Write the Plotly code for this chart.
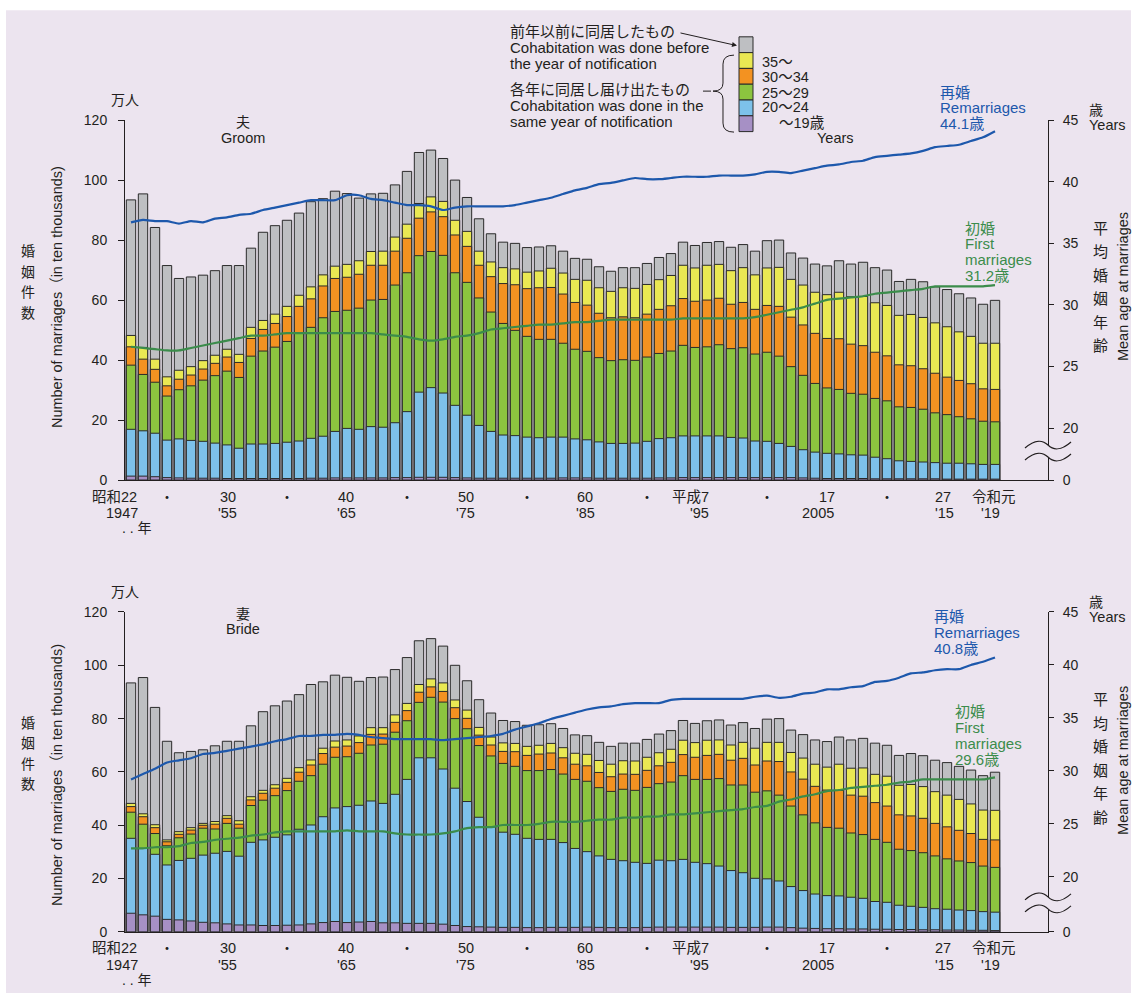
import plotly.graph_objects as go

W, H = 1137, 997
# measured photo mapping: picture_y = VS * page_y + VC  (page is slightly squeezed vertically)
VS, VC = 0.9842, 7.87
years = list(range(1947, 2020))

# ---------------- data (万人, cumulative tops of each stacked band) ----------------
total = [93.4, 95.4, 84.2, 71.5, 67.2, 67.7, 68.3, 69.8, 71.5, 71.5,
         77.3, 82.6, 84.8, 86.6, 89.0, 92.8, 93.8, 96.3, 95.5, 94.0,
         95.4, 95.6, 98.4, 102.9, 109.2, 110.0, 107.2, 100.0, 94.2, 87.1,
         82.1, 79.3, 78.9, 77.5, 77.7, 78.1, 76.3, 73.9, 73.6, 71.1,
         69.6, 70.8, 70.8, 72.2, 74.2, 75.5, 79.3, 78.2, 79.2, 79.5,
         77.6, 78.5, 76.3, 79.8, 80.0, 75.7, 74.0, 72.0, 71.4, 73.1,
         72.0, 72.6, 70.8, 70.0, 66.2, 66.9, 66.1, 64.4, 63.5, 62.1,
         60.7, 58.6, 59.9]

groom_top_19 = [1.3, 1.3, 1.1, 0.8, 0.7, 0.6, 0.6, 0.6, 0.5, 0.5,
                0.5, 0.5, 0.5, 0.5, 0.5, 0.6, 0.6, 0.7, 0.7, 0.7,
                0.7, 0.7, 0.8, 0.8, 0.9, 0.9, 0.9, 0.8, 0.7, 0.6,
                0.6, 0.6, 0.6, 0.6, 0.6, 0.6, 0.7, 0.7, 0.7, 0.6,
                0.6, 0.6, 0.6, 0.6, 0.7, 0.7, 0.8, 0.8, 0.8, 0.8,
                0.8, 0.8, 0.8, 0.8, 0.8, 0.8, 0.7, 0.6, 0.5, 0.5,
                0.5, 0.5, 0.4, 0.4, 0.4, 0.4, 0.4, 0.4, 0.3, 0.3,
                0.3, 0.3, 0.3]
groom_top_20_24 = [16.9, 16.4, 15.6, 13.3, 13.7, 13.2, 12.9, 12.3, 11.7, 10.6,
                   12.0, 12.0, 12.2, 12.6, 13.0, 13.9, 14.6, 16.2, 17.2, 16.9,
                   17.8, 17.6, 19.1, 22.8, 29.3, 30.8, 29.0, 24.9, 21.6, 18.2,
                   16.2, 15.0, 14.8, 14.3, 14.1, 14.3, 14.3, 13.7, 13.4, 12.7,
                   12.2, 12.2, 12.3, 12.9, 13.8, 14.1, 14.7, 14.7, 14.7, 14.7,
                   14.2, 14.0, 13.0, 12.9, 12.2, 11.2, 10.1, 9.3, 8.9, 8.7,
                   8.4, 8.3, 7.6, 7.1, 6.4, 6.2, 6.0, 5.8, 5.6, 5.6,
                   5.4, 5.2, 5.2]
groom_top_25_29 = [38.3, 35.2, 32.6, 28.0, 30.1, 31.4, 33.3, 34.8, 36.3, 34.2,
                   41.3, 43.0, 44.3, 46.2, 49.1, 50.9, 54.1, 56.2, 56.6, 57.3,
                   60.0, 60.2, 65.0, 69.1, 74.8, 76.2, 74.9, 69.1, 65.9, 60.7,
                   56.0, 52.2, 49.9, 47.9, 46.9, 46.9, 45.6, 43.6, 42.9, 40.8,
                   39.8, 40.1, 39.9, 41.0, 42.2, 43.0, 44.9, 44.2, 44.4, 45.1,
                   43.8, 44.1, 42.0, 42.6, 41.3, 37.8, 34.9, 32.2, 30.7, 30.2,
                   28.9, 28.6, 27.2, 26.4, 24.4, 24.2, 23.6, 22.4, 21.8, 21.1,
                   20.4, 19.6, 19.4]
groom_top_30_34 = [44.4, 40.3, 36.9, 31.4, 33.6, 35.0, 37.0, 38.9, 41.0, 39.2,
                   47.2, 50.2, 52.2, 54.5, 57.9, 60.4, 64.7, 67.2, 67.6, 68.6,
                   71.6, 71.6, 76.3, 80.6, 87.3, 89.4, 87.8, 81.7, 77.9, 71.6,
                   67.8, 65.5, 65.1, 63.8, 64.1, 64.2, 62.0, 59.2, 58.3, 55.6,
                   54.1, 54.4, 54.1, 55.3, 56.9, 58.1, 60.5, 59.6, 60.0, 60.6,
                   58.6, 59.2, 56.9, 58.2, 57.9, 54.3, 51.7, 48.9, 47.2, 47.1,
                   45.3, 44.8, 42.6, 41.4, 38.4, 38.1, 37.1, 35.6, 34.3, 33.2,
                   32.1, 30.4, 30.2]
groom_top_35plus = [48.2, 44.2, 40.3, 34.4, 36.6, 37.8, 39.8, 41.6, 43.6, 41.9,
                    50.9, 53.2, 55.3, 57.9, 61.6, 64.4, 68.4, 71.3, 71.9, 73.1,
                    76.2, 76.3, 81.0, 85.3, 92.2, 94.4, 92.9, 86.6, 82.9, 76.3,
                    72.7, 70.8, 70.4, 69.3, 69.7, 70.6, 69.0, 66.9, 66.6, 64.1,
                    62.9, 64.1, 63.9, 65.2, 66.8, 68.2, 71.6, 70.7, 71.6, 71.9,
                    69.8, 70.8, 68.4, 70.7, 70.9, 66.9, 65.0, 62.6, 61.8, 62.6,
                    61.1, 61.2, 59.1, 58.2, 54.9, 55.2, 54.2, 52.4, 51.1, 49.4,
                    47.9, 45.6, 45.6]

bride_top_19 = [7.0, 6.4, 5.9, 4.7, 4.5, 4.1, 3.6, 3.4, 3.0, 2.6,
                2.6, 2.4, 2.4, 2.5, 2.6, 3.0, 3.5, 3.9, 3.5, 3.7,
                3.9, 3.4, 3.4, 3.2, 3.2, 3.2, 2.9, 2.4, 2.0, 1.9,
                1.8, 1.7, 1.7, 1.6, 1.6, 1.7, 1.7, 1.7, 1.8, 1.7,
                1.6, 1.6, 1.6, 1.7, 1.8, 1.8, 1.8, 1.8, 1.8, 1.8,
                1.7, 1.7, 1.7, 1.8, 1.8, 1.6, 1.4, 1.3, 1.2, 1.2,
                1.1, 1.1, 1.0, 1.0, 0.9, 0.9, 0.8, 0.8, 0.7, 0.7,
                0.6, 0.6, 0.5]
bride_top_20_24 = [35.1, 31.3, 29.1, 25.1, 26.8, 27.6, 28.8, 29.5, 30.2, 28.4,
                   33.6, 34.5, 35.5, 36.4, 38.5, 40.1, 43.2, 46.5, 47.0, 47.5,
                   49.1, 48.2, 51.6, 57.2, 65.3, 65.3, 61.1, 53.9, 48.9, 43.0,
                   39.4, 37.4, 36.6, 35.1, 34.7, 34.7, 33.5, 31.3, 30.1, 28.5,
                   27.2, 26.7, 26.1, 25.7, 26.9, 26.7, 27.2, 26.1, 25.6, 24.7,
                   23.0, 22.2, 20.1, 19.9, 19.1, 17.0, 15.5, 14.2, 13.6, 13.5,
                   13.0, 12.6, 11.4, 11.1, 10.0, 9.6, 9.2, 8.7, 8.5, 8.2,
                   8.0, 7.6, 7.4]
bride_top_25_29 = [44.9, 40.4, 36.9, 32.3, 35.3, 36.7, 38.9, 38.6, 40.7, 38.9,
                   47.4, 49.4, 51.1, 53.0, 56.5, 58.6, 62.9, 65.5, 65.7, 67.0,
                   70.1, 70.4, 74.9, 79.2, 86.1, 88.0, 86.2, 80.0, 76.2, 69.9,
                   66.0, 63.2, 62.1, 60.5, 60.5, 60.9, 59.2, 57.2, 56.5, 54.1,
                   52.7, 53.5, 53.1, 54.2, 55.6, 56.2, 58.6, 57.2, 57.2, 57.5,
                   55.1, 55.1, 52.4, 52.9, 51.3, 47.2, 43.9, 40.9, 39.2, 38.9,
                   37.1, 36.5, 34.7, 33.6, 31.0, 30.5, 29.7, 28.5, 27.4, 26.6,
                   26.0, 24.7, 24.2]
bride_top_30_34 = [47.0, 43.2, 39.1, 33.8, 36.6, 38.2, 40.0, 40.4, 42.6, 40.4,
                   49.5, 52.0, 53.9, 56.1, 59.9, 62.6, 66.9, 69.3, 69.7, 71.0,
                   74.1, 74.2, 78.6, 83.0, 89.9, 91.9, 90.2, 84.1, 80.1, 73.8,
                   70.1, 67.7, 67.6, 66.2, 66.7, 67.1, 65.3, 62.9, 62.3, 59.8,
                   58.2, 59.2, 59.1, 60.6, 62.3, 63.6, 66.5, 65.5, 66.2, 66.6,
                   64.4, 65.1, 62.6, 64.1, 63.9, 60.0, 57.3, 54.6, 53.2, 53.1,
                   51.3, 50.9, 48.5, 47.2, 43.9, 43.5, 42.6, 40.7, 39.4, 38.1,
                   36.9, 34.7, 34.5]
bride_top_35plus = [48.2, 44.3, 40.2, 34.5, 37.6, 39.1, 40.7, 41.4, 43.6, 41.7,
                    50.7, 53.1, 55.2, 57.6, 61.6, 64.5, 68.9, 71.6, 72.0, 73.5,
                    76.6, 76.6, 81.4, 85.7, 92.8, 94.9, 93.4, 87.0, 83.2, 76.7,
                    73.1, 70.9, 70.7, 69.6, 70.0, 70.7, 69.1, 67.0, 66.6, 64.3,
                    62.9, 64.2, 64.1, 65.5, 67.2, 68.5, 71.9, 71.0, 71.9, 72.0,
                    70.1, 71.1, 68.9, 71.1, 71.1, 67.3, 65.2, 62.9, 61.8, 62.9,
                    61.4, 61.5, 59.1, 58.4, 55.0, 55.3, 54.5, 52.6, 51.3, 49.7,
                    48.0, 45.7, 45.6]

# mean age (years)
groom_first_age = [26.6, 26.5, 26.4, 26.3, 26.3, 26.5, 26.7, 26.9, 27.1, 27.3,
                   27.5, 27.5, 27.6, 27.7, 27.7, 27.7, 27.7, 27.7, 27.7, 27.7,
                   27.7, 27.6, 27.5, 27.4, 27.2, 27.1, 27.2, 27.4, 27.5, 27.7,
                   28.0, 28.1, 28.2, 28.3, 28.4, 28.4, 28.5, 28.6, 28.6, 28.7,
                   28.8, 28.8, 28.8, 28.8, 28.8, 28.8, 28.9, 28.9, 28.9, 28.9,
                   28.9, 28.9, 29.0, 29.2, 29.4, 29.6, 29.8, 30.1, 30.4, 30.5,
                   30.6, 30.7, 30.9, 31.0, 31.1, 31.2, 31.3, 31.5, 31.5, 31.5,
                   31.5, 31.5, 31.6]
groom_re_age = [36.7, 36.9, 36.8, 36.8, 36.6, 36.8, 36.7, 37.0, 37.1, 37.3,
                37.4, 37.7, 37.9, 38.1, 38.3, 38.5, 38.5, 38.5, 38.9, 38.9,
                38.6, 38.5, 38.3, 38.1, 38.1, 38.0, 37.7, 37.9, 38.0, 38.0,
                38.0, 38.0, 38.1, 38.3, 38.5, 38.7, 39.0, 39.3, 39.5, 39.8,
                39.9, 40.1, 40.3, 40.2, 40.2, 40.3, 40.4, 40.4, 40.4, 40.5,
                40.5, 40.5, 40.6, 40.8, 40.8, 40.7, 40.9, 41.1, 41.3, 41.4,
                41.6, 41.7, 42.0, 42.1, 42.2, 42.3, 42.5, 42.8, 42.9, 43.0,
                43.3, 43.6, 44.1]
bride_first_age = [22.7, 22.7, 22.8, 22.8, 22.9, 23.2, 23.3, 23.5, 23.6, 23.7,
                   23.9, 24.0, 24.2, 24.3, 24.3, 24.3, 24.3, 24.3, 24.4, 24.3,
                   24.3, 24.3, 24.1, 24.0, 24.0, 24.0, 24.1, 24.3, 24.6, 24.7,
                   24.7, 24.9, 24.9, 24.9, 25.0, 25.2, 25.2, 25.2, 25.3, 25.4,
                   25.4, 25.6, 25.6, 25.7, 25.7, 25.9, 25.9, 26.0, 26.1, 26.2,
                   26.3, 26.4, 26.6, 26.7, 27.1, 27.3, 27.6, 27.8, 28.1, 28.2,
                   28.4, 28.5, 28.6, 28.7, 28.9, 29.0, 29.2, 29.2, 29.2, 29.2,
                   29.2, 29.2, 29.4]
bride_re_age = [29.2, 29.7, 30.2, 30.8, 31.0, 31.2, 31.6, 31.7, 31.9, 32.1,
                32.3, 32.5, 32.8, 33.0, 33.3, 33.3, 33.4, 33.4, 33.5, 33.4,
                33.2, 33.1, 33.0, 33.0, 33.0, 33.0, 32.9, 33.0, 33.1, 33.2,
                33.3, 33.5, 33.9, 34.2, 34.5, 34.9, 35.2, 35.5, 35.8, 36.0,
                36.1, 36.3, 36.4, 36.4, 36.4, 36.7, 36.8, 36.8, 36.8, 36.8,
                36.8, 36.8, 37.0, 37.1, 36.9, 37.0, 37.3, 37.4, 37.7, 37.7,
                37.9, 38.0, 38.4, 38.5, 38.8, 39.2, 39.3, 39.5, 39.6, 39.6,
                40.0, 40.3, 40.7]

tick_years = [1947, 1955, 1965, 1975, 1985, 1995, 2005, 2015, 2019]
tick_era = ["昭和22", "30", "40", "50", "60", "平成7", "17", "27", "令和元"]
tick_ad = ["1947", "'55", "'65", "'75", "'85", "'95", "2005", "'15", "'19"]
dot_years = [1950, 1960, 1970, 1980, 1990, 2000, 2010]
age_ticks = [20, 25, 30, 35, 40, 45]
legend_labels = ["35～", "30～34", "25～29", "20～24", "～19歳"]

# ---------------- style ----------------
BG = '#ECE4EF'
TXT = '#231F20'
C_GRAY, C_YEL, C_ORG = '#BEBFC2', '#EAE853', '#F39221'
C_GRN, C_BLU, C_PUR = '#8CC43F', '#7DC1EA', '#A690C5'
C_LBLUE, C_LGRN = '#1D58AC', '#3B8C4B'
FONT = 'Liberation Sans, Arial, Noto Sans CJK JP, sans-serif'

def px(x):          # target picture pixel -> paper fraction
    return x / W

def py(y):
    return 1 - ((y - VC) / VS) / H

XDOM = [px(125), px(1048)]
XR = [1946.5, 1947 + (1048 - 131) / 12]
TOP = dict(y0=480, y1=120, age20=428)
BOT = dict(y0=932, y1=612, age20=877)

def age_range(p):
    per = (p['age20'] - p['y1']) / 25.0
    return [20 - (p['y0'] - p['age20']) / per, 45]

fig = go.Figure()

def add_panel(xa, ya, ya2, tops, first, re):
    cols = [C_GRAY, C_YEL, C_ORG, C_GRN, C_BLU, C_PUR]
    for vals, c in zip(tops, cols):
        fig.add_trace(go.Bar(x=years, y=vals, width=0.78, xaxis=xa, yaxis=ya,
                             marker=dict(color=c, line=dict(color='#2A2A2A', width=1)),
                             showlegend=False, hoverinfo='skip'))
    for vals, c in [(re, C_LBLUE), (first, C_LGRN)]:
        fig.add_trace(go.Scatter(x=years, y=vals, mode='lines', xaxis=xa, yaxis=ya2,
                                 line=dict(color=c, width=2.2, shape='spline', smoothing=0.6),
                                 showlegend=False, hoverinfo='skip'))

add_panel('x', 'y', 'y3',
          [total, groom_top_35plus, groom_top_30_34, groom_top_25_29, groom_top_20_24, groom_top_19],
          groom_first_age, groom_re_age)
add_panel('x2', 'y2', 'y4',
          [total, bride_top_35plus, bride_top_30_34, bride_top_25_29, bride_top_20_24, bride_top_19],
          bride_first_age, bride_re_age)

tickfont = dict(size=14, color=TXT, family=FONT)

def xaxis(anchor):
    return dict(domain=XDOM, range=XR, anchor=anchor, showline=True, linecolor=TXT, linewidth=1,
                showticklabels=False, ticks='', showgrid=False, zeroline=False)

def yaxis(p, anchor):
    return dict(domain=[py(p['y0']), py(p['y1'])], range=[0, 120], tick0=0, dtick=20, anchor=anchor,
                ticks='outside', ticklen=6, tickcolor=TXT, tickwidth=1, showline=True, linecolor=TXT,
                linewidth=1, showgrid=False, zeroline=False, tickfont=tickfont, ticklabelstandoff=8)

def raxis(p, over, anchor):
    r = age_range(p)
    return dict(overlaying=over, side='right', anchor=anchor, range=r,
                tickvals=[r[0]] + age_ticks, ticktext=['0'] + [str(a) for a in age_ticks],
                ticks='outside', ticklen=5, tickcolor=TXT, tickwidth=1, showline=True, linecolor=TXT,
                linewidth=1, showgrid=False, zeroline=False, tickfont=tickfont, ticklabelstandoff=6)

ann = []

def A(text, x, y, size=15, color=TXT, xa='left', ya='middle', angle=0):
    ann.append(dict(text=text, x=px(x), y=py(y), xref='paper', yref='paper', showarrow=False,
                    xanchor=xa, yanchor=ya, textangle=angle,
                    font=dict(size=size, color=color, family=FONT)))

# x-axis labels for both panels
era_shift = [-17, 1, -1, -1, -2, -17, 0, -4, -1]
ad_shift = [-9, 0, -1, -2, -2, -8, -9, -3, -5]
for xref, base in [('x', TOP['y0']), ('x2', BOT['y0'])]:
    for yr, t1, t2, s1, s2 in zip(tick_years, tick_era, tick_ad, era_shift, ad_shift):
        ann.append(dict(text=t1, x=yr, xref=xref, y=py(base + 16.5), yref='paper', xshift=s1,
                        showarrow=False, xanchor='center', yanchor='middle',
                        font=dict(size=14.5, color=TXT, family=FONT)))
        ann.append(dict(text=t2, x=yr, xref=xref, y=py(base + 33), yref='paper', xshift=s2,
                        showarrow=False, xanchor='center', yanchor='middle',
                        font=dict(size=14.5, color=TXT, family=FONT)))
    for yr in dot_years:
        ann.append(dict(text='・', x=yr, xref=xref, y=py(base + 16.5), yref='paper',
                        showarrow=False, xanchor='center', yanchor='middle',
                        font=dict(size=14, color=TXT, family=FONT)))
    A('. . 年', 137, base + 48, size=14, xa='center')

for p, ttl, sub in [(TOP, '夫', 'Groom'), (BOT, '妻', 'Bride')]:
    top = p['y1']
    A('万人', 125, top - 20, size=14, xa='center')
    A(ttl, 243, top + 2, size=14, xa='center')
    A(sub, 243, top + 17.5, size=14.5, xa='center')
    A('歳', 1087, top - 10, size=14)
    A('Years', 1087, top + 5, size=14.5)
    mid = (p['y0'] + p['y1']) / 2
    A('Number of marriages（in ten thousands)', 57, mid - 3 + (6 if p is BOT else 0), size=14.5,
      xa='center', angle=-90)
    A('Mean age at marriages', 1123, mid - 13 + (2 if p is BOT else 0), size=14.5, xa='center', angle=-90)
    for i, ch in enumerate('婚姻件数'):
        A(ch, 28, mid - 49 + i * 20.5, size=14, xa='center')
    for i, ch in enumerate('平均婚姻年齢'):
        A(ch, 1100, mid - 72 + i * 23.5, size=15, xa='center')

# line labels
def lines(texts, x, y0, color, dy=15.7, size=15):
    for i, t in enumerate(texts):
        A(t, x, y0 + i * dy, size=size, color=color)

lines(['再婚', 'Remarriages', '44.1歳'], 938, 92, C_LBLUE)
lines(['初婚', 'First', 'marriages', '31.2歳'], 963, 228, C_LGRN)
lines(['再婚', 'Remarriages', '40.8歳'], 932, 617, C_LBLUE)
lines(['初婚', 'First', 'marriages', '29.6歳'], 953, 712, C_LGRN)

# legend texts
lines(['前年以前に同居したもの', 'Cohabitation was done before', 'the year of notification'], 508, 31.5, TXT)
lines(['各年に同居し届け出たもの', 'Cohabitation was done in the', 'same year of notification'], 508, 89.5, TXT)
for (t, x, y) in zip(legend_labels, [760, 760, 760, 760, 777], [61.5, 77, 92.5, 107, 122.5]):
    A(t, x, y, size=14.5)
A('Years', 815, 138, size=14.5)
ann.append(dict(text='', x=px(737), y=py(45.5), xref='paper', yref='paper', showarrow=True,
                ax=-58, ay=-13, arrowhead=2, arrowsize=1, arrowwidth=1, arrowcolor=TXT))

# ---------------- shapes ----------------
shapes = [dict(type='rect', xref='paper', yref='paper', x0=px(6), x1=px(1131), y0=py(993), y1=py(10),
               fillcolor=BG, line=dict(width=0), layer='below')]
leg_cols = [C_GRAY, C_YEL, C_ORG, C_GRN, C_BLU, C_PUR]
for i, c in enumerate(leg_cols):
    y0 = 36.7 + i * 15.8
    shapes.append(dict(type='rect', xref='paper', yref='paper', x0=px(739), x1=px(753),
                       y0=py(y0 + 15.8), y1=py(y0), fillcolor=c, line=dict(color='#2A2A2A', width=1)))

def P(cmds):
    out = []
    for c in cmds:
        if isinstance(c, str):
            out.append(c)
        else:
            out.append(f"{px(c[0]):.5f},{py(c[1]):.5f}")
    return ' '.join(out)

brace = P(['M', (734, 55), 'Q', (723, 55), (723, 64), 'L', (723, 83), 'Q', (723, 91), (713, 91),
           'Q', (723, 91), (723, 99), 'L', (723, 123), 'Q', (723, 132), (734, 132),
           'M', (703, 91), 'L', (711, 91)])
shapes.append(dict(type='path', xref='paper', yref='paper', path=brace, line=dict(color=TXT, width=1)))

def wave(y, rev=False):
    p0, c1, c2, p1, c3, c4, p2 = ((1025, y + 3), (1035, y - 6), (1043, y - 5), (1048, y),
                                  (1053, y + 5), (1061, y + 6), (1071, y - 3))
    if not rev:
        return [p0, 'C', c1, c2, p1, 'C', c3, c4, p2]
    return [p2, 'C', c4, c3, p1, 'C', c2, c1, p0]

for yb in [445, 897]:
    fill = P(['M'] + wave(yb) + ['L'] + wave(yb + 12, rev=True) + ['Z'])
    shapes.append(dict(type='path', xref='paper', yref='paper', path=fill, fillcolor=BG,
                       line=dict(width=0), layer='above'))
    for yy in [yb, yb + 12]:
        shapes.append(dict(type='path', xref='paper', yref='paper', path=P(['M'] + wave(yy)),
                           line=dict(color=TXT, width=1.2), layer='above'))

fig.update_layout(
    width=W, height=H, margin=dict(l=0, r=0, t=0, b=0),
    paper_bgcolor='white', plot_bgcolor='rgba(0,0,0,0)',
    barmode='overlay', showlegend=False,
    font=dict(family=FONT, color=TXT),
    xaxis=xaxis('y'), yaxis=yaxis(TOP, 'x'), yaxis3=raxis(TOP, 'y', 'x'),
    xaxis2=xaxis('y2'), yaxis2=yaxis(BOT, 'x2'), yaxis4=raxis(BOT, 'y2', 'x2'),
    annotations=ann, shapes=shapes,
)

fig.write_html("out.html", config={'displayModeBar': False},
               post_script="document.body.style.margin='0';document.body.style.overflow='hidden';"
                           "document.documentElement.style.overflow='hidden';")
